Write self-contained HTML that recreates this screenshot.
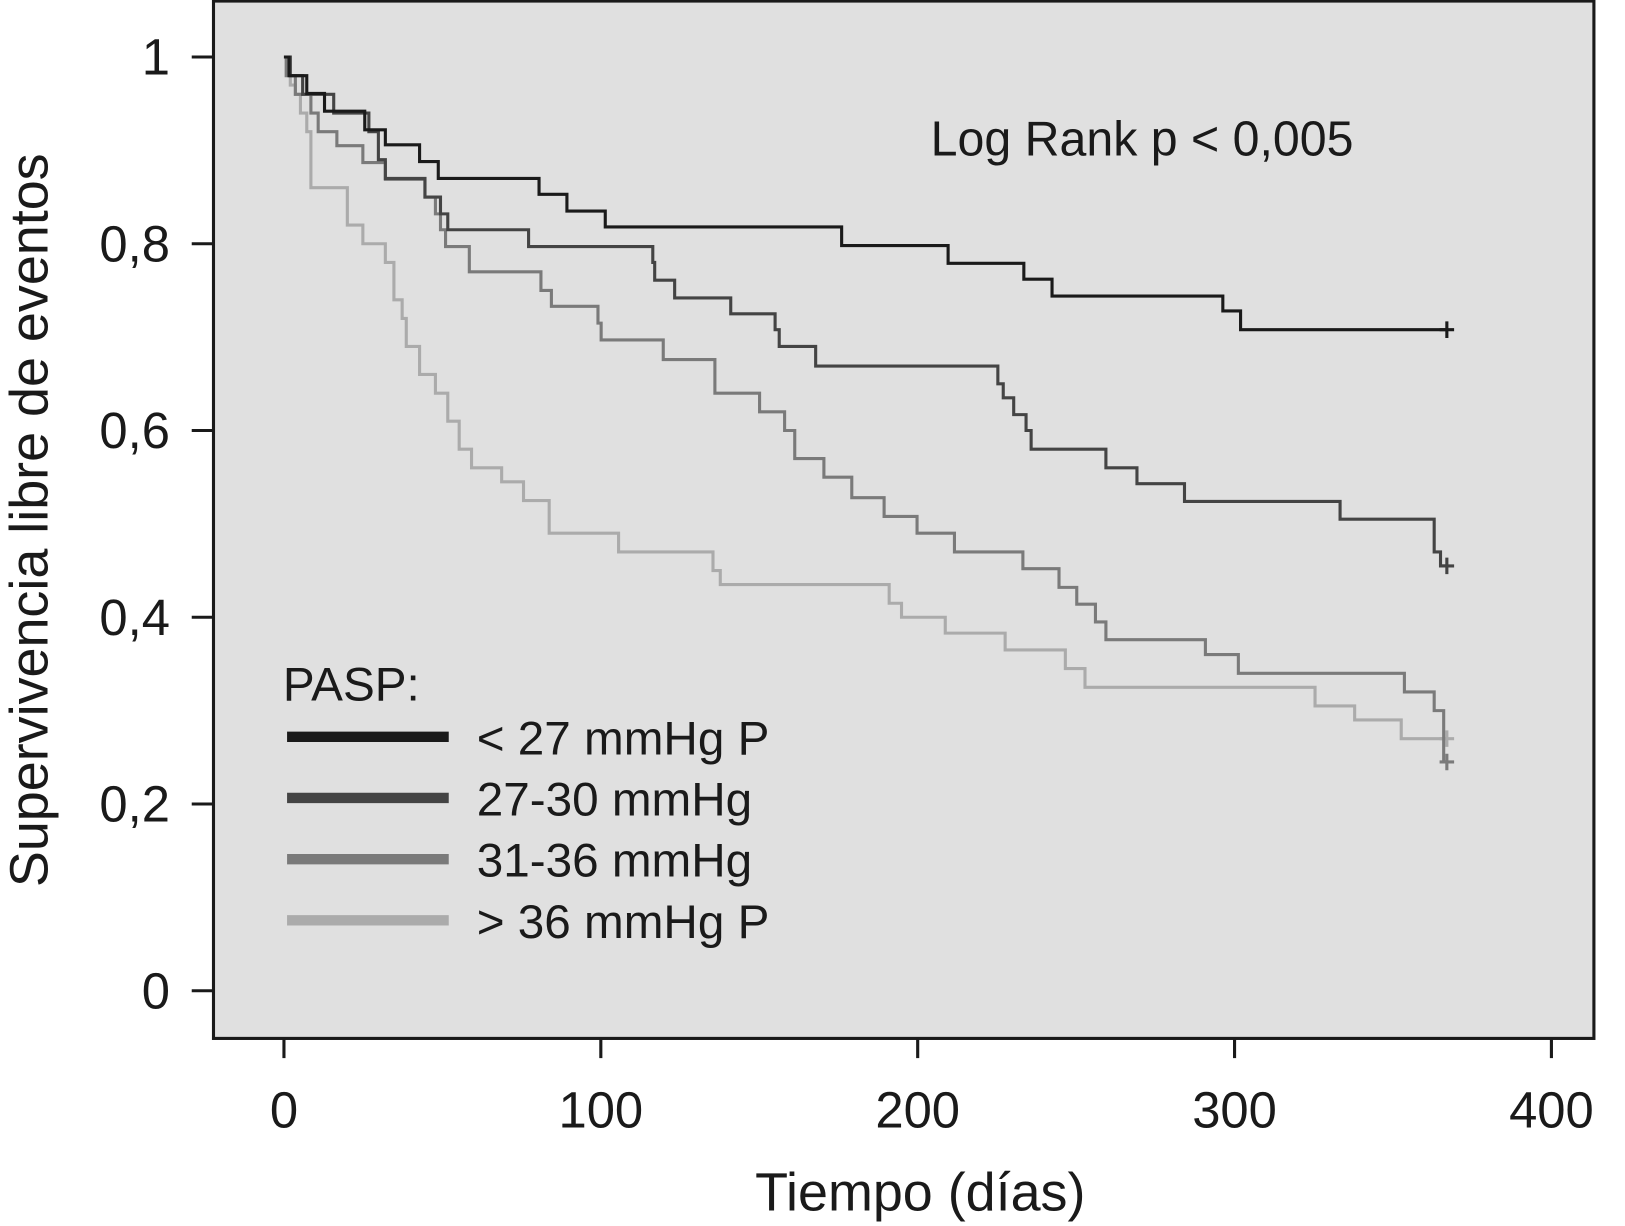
<!DOCTYPE html>
<html><head><meta charset="utf-8"><style>
html,body{margin:0;padding:0;background:#fff;}
svg{display:block;font-family:"Liberation Sans",sans-serif;}
</style></head><body>
<svg id="chart" width="1625" height="1226" viewBox="0 0 1568 1183" preserveAspectRatio="none" xmlns="http://www.w3.org/2000/svg">
<rect x="206" y="1" width="1332" height="1001" fill="#e0e0e0" stroke="#1a1a1a" stroke-width="3"/>
<g id="axes"></g>
<g id="series"></g>
<text x="898" y="150" font-size="47" textLength="408" lengthAdjust="spacingAndGlyphs" fill="#1a1a1a">Log Rank p &lt; 0,005</text>
<text x="888" y="1168" font-size="52" text-anchor="middle" fill="#1a1a1a">Tiempo (días)</text>
<text transform="translate(46,502) rotate(-90)" font-size="52" text-anchor="middle" fill="#1a1a1a">Supervivencia libre de eventos</text>
<g id="legend">
<text x="273" y="676" font-size="46" fill="#1a1a1a">PASP:</text>
</g>
</svg>
<script>
const xTicks=[0,100,200,300,400];
const yTicks=[0,0.2,0.4,0.6,0.8,1];
const yTickLabels=["0","0,2","0,4","0,6","0,8","1"];
const seriesNames=["< 27 mmHg P","27-30 mmHg","31-36 mmHg","> 36 mmHg P"];
const seriesColors=["#1a1a1a","#444444","#7a7a7a","#ababab"];
const s1Times=[0,1.6,7.2,12.8,25.5,32,42.8,48.7,80.5,89.3,101.4,176,209.6,233.5,242.4,296.3,301.9];
const s1Values=[1,0.98,0.961,0.942,0.922,0.906,0.888,0.87,0.853,0.835,0.818,0.798,0.779,0.762,0.744,0.728,0.708];
const s2Times=[0,2,5.9,15.7,26.8,29.8,32,44.5,49.4,51.7,77.2,116.4,117,123.3,141,155,156.3,167.8,225.3,227,230.3,234.2,235.8,259.4,269.2,284.2,333.3,363,365];
const s2Values=[1,0.98,0.96,0.94,0.92,0.89,0.87,0.85,0.832,0.815,0.797,0.78,0.761,0.742,0.725,0.708,0.69,0.669,0.65,0.635,0.617,0.6,0.58,0.56,0.543,0.524,0.505,0.47,0.455];
const s3Times=[0,0.7,3.6,8.5,10.8,16.7,24.9,32,44.5,47.8,49.4,51,58.5,81.1,84.4,99.1,100.1,119.7,136,150.1,158,161.2,170.4,179.2,189.4,199.8,211.6,233.2,244.6,250.2,256.1,259.4,290.8,301.2,353.6,363,366];
const s3Values=[1,0.98,0.96,0.94,0.92,0.905,0.887,0.869,0.85,0.832,0.815,0.797,0.77,0.75,0.733,0.715,0.697,0.676,0.64,0.62,0.6,0.57,0.55,0.528,0.508,0.49,0.47,0.452,0.432,0.414,0.395,0.376,0.36,0.34,0.32,0.3,0.245];
const s4Times=[0,2,3.6,5.2,7.2,8.5,20,24.9,32,34.7,37.3,38.6,42.8,47.8,51.7,55.3,59.2,68.7,75.6,83.7,105.6,135.4,137.7,191,194.9,208.7,227.6,246.6,252.8,325.4,337.9,352.6];
const s4Values=[1,0.97,0.96,0.94,0.92,0.86,0.82,0.8,0.78,0.74,0.72,0.69,0.66,0.64,0.61,0.58,0.56,0.545,0.525,0.49,0.47,0.45,0.435,0.415,0.4,0.383,0.365,0.345,0.325,0.305,0.29,0.27];
const endTimes=[367,367,367,367];

const NS="http://www.w3.org/2000/svg";
const xS=d=>274+d*3.0575;
const yS=v=>956-v*901;
function mk(tag,attrs,parent){const e=document.createElementNS(NS,tag);for(const k in attrs)e.setAttribute(k,attrs[k]);parent.appendChild(e);return e;}
const axes=document.getElementById('axes');
xTicks.forEach(t=>{
  const l=mk('line',{x1:xS(t),x2:xS(t),y1:1002,y2:1021,stroke:'#1a1a1a','stroke-width':3},axes);
  
  
  const tx=mk('text',{x:xS(t),y:1088,'font-size':49,'text-anchor':'middle',fill:'#1a1a1a'},axes);
  tx.textContent=t;
  
  
});
yTicks.forEach((t,i)=>{
  const l=mk('line',{x1:185,x2:206,y1:yS(t),y2:yS(t),stroke:'#1a1a1a','stroke-width':3},axes);
  
  
  const tx=mk('text',{x:164,y:yS(t)+17,'font-size':49,'text-anchor':'end',fill:'#1a1a1a'},axes);
  tx.textContent=yTickLabels[i];
  
  
});
const allT=[s1Times,s2Times,s3Times,s4Times],allV=[s1Values,s2Values,s3Values,s4Values];
const sg=document.getElementById('series');
for(let k=3;k>=0;k--){
  const T=allT[k],V=allV[k];
  let d='M'+xS(T[0])+' '+yS(V[0]);
  for(let i=1;i<T.length;i++){d+=' H'+xS(T[i])+' V'+yS(V[i]);}
  const endV=V[V.length-1];
  d+=' H'+xS(endTimes[k]);
  const p=mk('path',{d:d,fill:'none',stroke:seriesColors[k],'stroke-width':3},sg);
  
  
  const c=mk('path',{d:'M'+(xS(endTimes[k])-7)+' '+yS(endV)+' h14 M'+xS(endTimes[k])+' '+(yS(endV)-8)+' v16',stroke:seriesColors[k],'stroke-width':3,fill:'none'},sg);
  
  
}
const lg=document.getElementById('legend');
seriesNames.forEach((n,i)=>{
  const y=711+i*59;
  const l=mk('line',{x1:277,x2:433,y1:y,y2:y,stroke:seriesColors[i],'stroke-width':10},lg);
  
  
  const tx=mk('text',{x:460,y:y+17,'font-size':46,fill:'#1a1a1a'},lg);
  tx.textContent=n;
  
  
});
</script>
</body></html>
